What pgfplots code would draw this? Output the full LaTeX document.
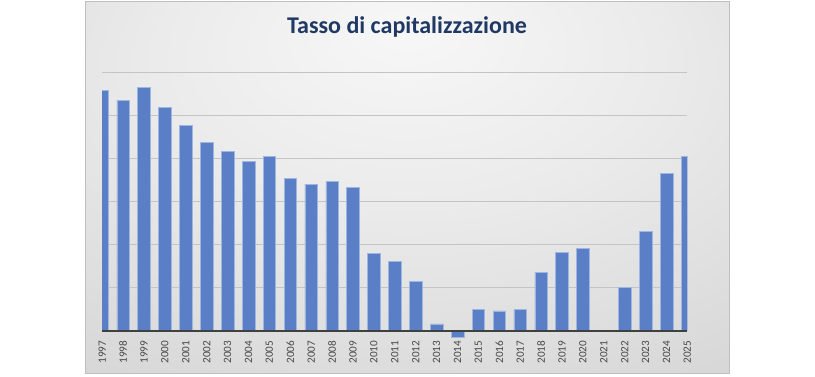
\documentclass[border=0pt]{standalone}
\usepackage{pgfplots}
\pgfplotsset{compat=1.18}
\usepackage{fontspec}
\setmainfont{Carlito}
\definecolor{barblue}{RGB}{91,127,199}
\definecolor{baredge}{RGB}{160,182,226}
\definecolor{titleblue}{RGB}{31,56,100}
\definecolor{gridgray}{RGB}{196,196,196}
\definecolor{axisdark}{RGB}{64,64,64}
\definecolor{labelgray}{RGB}{72,72,72}
\pgfdeclareradialshading{panelshade}{\pgfpoint{0bp}{22bp}}{%
  color(0bp)=(white!97!black);
  color(20bp)=(white!92!black);
  color(45bp)=(white!84!black);
  color(70bp)=(white!75!black);
  color(90bp)=(white!72!black)}
\begin{document}
\begin{tikzpicture}
\useasboundingbox (0,0) rectangle (611.25pt,282.75pt);
\shade[shading=panelshade] (63.75pt,2.25pt) rectangle (546.75pt,281.25pt);
\draw[white!75!black, line width=0.75pt] (63.75pt,2.25pt) rectangle (546.75pt,281.25pt);
\node[anchor=base, font=\fontsize{18pt}{20pt}\selectfont\bfseries, text=titleblue] at (305.25pt,257.25pt) {Tasso di capitalizzazione};
\begin{axis}[
  at={(76.65pt,28.275pt)}, anchor=south west,
  scale only axis, width=438.9pt, height=200.475pt,
  xmin=0, xmax=28, ymin=-0.2, ymax=6,
  axis line style={draw=none},
  ytick={1,2,3,4,5,6}, yticklabels={},
  ymajorgrids, grid style={draw=gridgray, line width=0.75pt},
  xtick={0,...,28},
  xticklabels={1997,1998,1999,2000,2001,2002,2003,2004,2005,2006,2007,2008,2009,2010,2011,2012,2013,2014,2015,2016,2017,2018,2019,2020,2021,2022,2023,2024,2025},
  major tick length=0pt,
  xticklabel style={rotate=90, anchor=east, font=\fontsize{8.4pt}{9pt}\selectfont, text=labelgray, inner sep=1pt},
  /pgf/number format/assume math mode=true,
  axis on top=false,
]
\addplot[ybar, bar width=0.6, fill=barblue, draw=baredge, line width=0.4pt] coordinates {
(0,5.57) (1,5.34) (2,5.65) (3,5.18) (4,4.77) (5,4.37) (6,4.16) (7,3.93) (8,4.05) (9,3.53)
(10,3.40) (11,3.47) (12,3.33) (13,1.79) (14,1.60) (15,1.14) (16,0.16) (17,-0.16) (18,0.50) (19,0.46)
(20,0.50) (21,1.35) (22,1.81) (23,1.90) (25,1.00) (26,2.30) (27,3.65) (28,4.05)
};
\draw[axisdark, line width=1.5pt] (axis cs:0,0) -- (axis cs:28,0);
\end{axis}
\end{tikzpicture}
\end{document}
